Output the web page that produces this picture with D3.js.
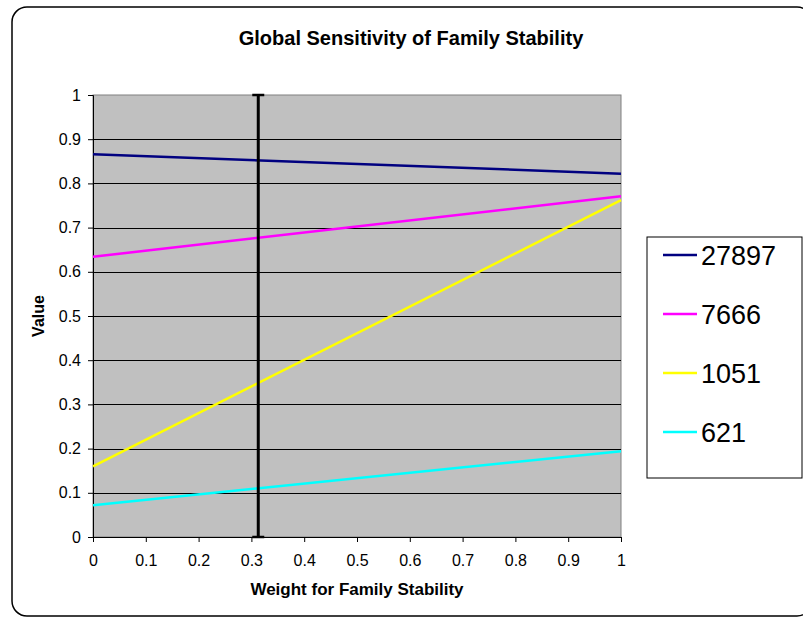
<!DOCTYPE html>
<html><head><meta charset="utf-8">
<script src="https://cdn.jsdelivr.net/npm/d3@7/dist/d3.min.js"></script>
<style>body{margin:0;background:#fff;}svg{display:block;font-family:Arial,"Liberation Sans",sans-serif;}</style>
</head><body>
<svg id="c" width="803" height="618"></svg>
<script>
const weights = [0, 1];
const seriesNames = ["27897", "7666", "1051", "621"];
const seriesColors = ["#000080", "#ff00ff", "#ffff00", "#00ffff"];
const s27897 = [0.866, 0.822];
const s7666 = [0.634, 0.771];
const s1051 = [0.160, 0.762];
const s621 = [0.072, 0.194];
const seriesValues = [s27897, s7666, s1051, s621];
const xTicks = [0, 0.1, 0.2, 0.3, 0.4, 0.5, 0.6, 0.7, 0.8, 0.9, 1];
const yTicks = [0, 0.1, 0.2, 0.3, 0.4, 0.5, 0.6, 0.7, 0.8, 0.9, 1];
const markerX = 0.313;
const markerY = [0, 1];

const svg = d3.select("#c");
const L = 93, R = 621, T = 95, B = 537;
const x = d3.scaleLinear().domain([0, 1]).range([L, R]);
const y = d3.scaleLinear().domain([0, 1]).range([B, T]);

// outer frame
svg.append("rect").attr("x", 12).attr("y", 7).attr("width", 800).attr("height", 609)
  .attr("rx", 15).attr("ry", 15).attr("fill", "#fff").attr("stroke", "#000").attr("stroke-width", 1.5);

// plot background
svg.append("rect").attr("x", L).attr("y", T).attr("width", R - L).attr("height", B - T)
  .attr("fill", "#c0c0c0").attr("stroke", "#808080").attr("stroke-width", 1);

// gridlines
svg.append("g").selectAll("line").data(yTicks.filter(d => d > 0 && d < 1)).join("line")
  .attr("x1", L).attr("x2", R).attr("y1", d => Math.round(y(d)) + 0.5).attr("y2", d => Math.round(y(d)) + 0.5)
  .attr("stroke", "#000").attr("stroke-width", 1);

// axes
const yAxis = d3.axisLeft(y).tickValues(yTicks).tickSize(5).tickPadding(7).tickFormat(d3.format("~g"));
const gy = svg.append("g").attr("transform", `translate(${L},0)`).call(yAxis);
const xAxis = d3.axisBottom(x).tickValues(xTicks).tickSize(5).tickPadding(13).tickFormat(d3.format("~g"));
const gx = svg.append("g").attr("transform", `translate(0,${B})`).call(xAxis);
[gx, gy].forEach(g => {
  g.attr("font-size", null).attr("font-family", null);
  g.selectAll("text").style("font-size", "16px").attr("fill", "#000")
    .style("font-family", "Arial, 'Liberation Sans', sans-serif");
  g.selectAll("line").attr("stroke", "#000");
  g.select(".domain").attr("stroke", "#000");
});

// series
const line = d3.line().x((d, i) => x(weights[i])).y(d => y(d));
svg.append("g").selectAll("path").data(seriesValues).join("path")
  .attr("d", d => line(d)).attr("fill", "none")
  .attr("stroke", (d, i) => seriesColors[i]).attr("stroke-width", 2.5);

// marker vertical line with caps
const mx = x(markerX);
svg.append("line").attr("x1", mx).attr("x2", mx).attr("y1", y(markerY[0])).attr("y2", y(markerY[1]))
  .attr("stroke", "#000").attr("stroke-width", 3);
markerY.forEach(v => {
  svg.append("line").attr("x1", mx - 6).attr("x2", mx + 6).attr("y1", y(v)).attr("y2", y(v))
    .attr("stroke", "#000").attr("stroke-width", 2.5);
});

// title & axis labels
svg.append("text").attr("x", 411).attr("y", 45).attr("text-anchor", "middle")
  .attr("font-weight", "bold").attr("font-size", 20).text("Global Sensitivity of Family Stability");
svg.append("text").attr("x", (L + R) / 2).attr("y", 595).attr("text-anchor", "middle")
  .attr("font-weight", "bold").attr("font-size", 17).text("Weight for Family Stability");
svg.append("text").attr("transform", `translate(44,${(T + B) / 2}) rotate(-90)`).attr("text-anchor", "middle")
  .attr("font-weight", "bold").attr("font-size", 16).text("Value");

// legend
svg.append("rect").attr("x", 647).attr("y", 237).attr("width", 155).attr("height", 241)
  .attr("fill", "#fff").attr("stroke", "#000").attr("stroke-width", 1);
const lg = svg.append("g").selectAll("g").data(seriesNames).join("g")
  .attr("transform", (d, i) => `translate(0,${255 + i * 59})`);
lg.append("line").attr("x1", 663).attr("x2", 697).attr("y1", 0).attr("y2", 0)
  .attr("stroke", (d, i) => seriesColors[i]).attr("stroke-width", 2.5);
lg.append("text").attr("x", 701).attr("y", 0).attr("dy", "0.36em").attr("font-size", 27).text(d => d);
</script>
</body></html>
